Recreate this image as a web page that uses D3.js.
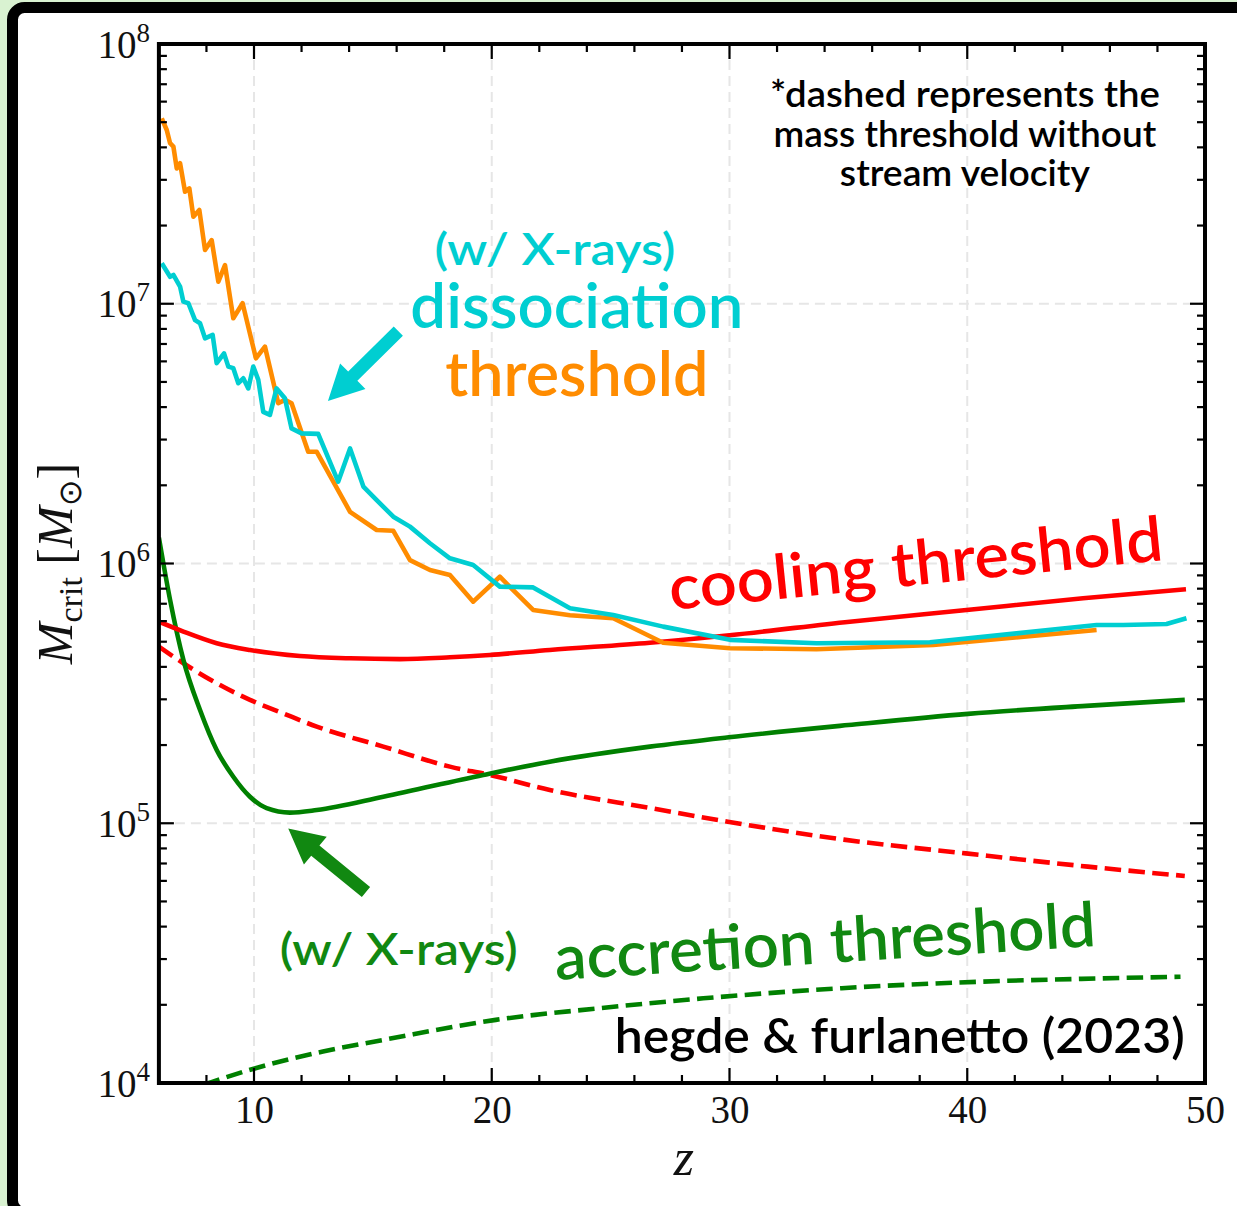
<!DOCTYPE html>
<html>
<head>
<meta charset="utf-8">
<script src="https://cdn.jsdelivr.net/npm/d3@7"></script>
<style>
  html, body { margin: 0; padding: 0; background: #d9f2d1; }
  svg { display: block; }
</style>
</head>
<body>
<svg id="chart" width="1237" height="1206"></svg>
<script>
// ---- data: redshift z and log10 of the critical halo mass (M_sun) ----

// cooling threshold, with stream velocity (solid red)
const coolZ     = [6.0, 7.03, 8.43, 9.83, 11.93, 14.03, 16.14, 18.24, 19.92, 22.44, 26.65, 30.0, 35.06, 39.97, 44.87, 49.2];
const coolLogM  = [5.776, 5.738, 5.693, 5.667, 5.644, 5.635, 5.632, 5.639, 5.648, 5.667, 5.695, 5.724, 5.776, 5.821, 5.866, 5.901];

// cooling threshold, no stream velocity (dashed red)
const coolNsZ    = [6.0, 7.03, 8.43, 9.83, 11.23, 12.64, 15.44, 18.24, 19.92, 22.44, 26.65, 29.93, 34.81, 39.94, 45.07, 49.15];
const coolNsLogM = [5.680, 5.616, 5.539, 5.475, 5.423, 5.372, 5.295, 5.218, 5.186, 5.128, 5.059, 5.006, 4.937, 4.884, 4.833, 4.797];

// accretion threshold with X-rays, with stream velocity (solid green)
const accZ    = [6.0, 6.47, 7.03, 7.73, 8.43, 9.13, 9.83, 10.53, 11.51, 12.64, 15.44, 19.64, 22.44, 26.65, 29.97, 35.0, 40.03, 45.0, 49.15];
const accLogM = [6.100, 5.860, 5.629, 5.436, 5.282, 5.179, 5.102, 5.058, 5.041, 5.051, 5.102, 5.186, 5.237, 5.295, 5.331, 5.378, 5.421, 5.452, 5.475];

// accretion threshold, no stream velocity (dashed green)
const accNsZ    = [6.0, 7.0, 8.1, 9.99, 12.9, 15.8, 20.17, 24.54, 28.9, 34.72, 40.54, 44.8, 48.97];
const accNsLogM = [3.930, 3.966, 4.000, 4.055, 4.121, 4.172, 4.243, 4.288, 4.326, 4.365, 4.390, 4.401, 4.409];

// dissociation threshold, with stream velocity (orange)
const dissZ = [6.12, 6.33, 6.47, 6.61, 6.75, 6.89, 7.10, 7.28, 7.45, 7.70, 7.94, 8.22, 8.50, 8.78, 9.13, 9.52,
               10.08, 10.46, 11.02, 11.30, 11.58, 12.28, 12.64, 14.04, 15.16, 15.86, 16.56, 17.40, 18.24, 19.22,
               20.34, 21.74, 23.29, 25.11, 27.21, 30.02, 33.66, 38.57, 45.44];
const dissLogM = [7.714, 7.669, 7.618, 7.605, 7.521, 7.541, 7.431, 7.444, 7.335, 7.361, 7.207, 7.245, 7.085, 7.149, 6.944, 7.002,
                  6.790, 6.835, 6.617, 6.630, 6.617, 6.430, 6.430, 6.199, 6.129, 6.126, 6.013, 5.975, 5.956, 5.853,
                  5.949, 5.821, 5.801, 5.789, 5.695, 5.674, 5.670, 5.686, 5.744];

// dissociation threshold with X-rays (cyan)
const dissXZ = [6.12, 6.47, 6.61, 6.89, 7.03, 7.24, 7.52, 7.73, 7.94, 8.26, 8.43, 8.74, 8.92, 9.13, 9.34, 9.55,
                9.76, 9.97, 10.18, 10.39, 10.67, 10.95, 11.30, 11.58, 12.00, 12.70, 13.54, 14.04, 14.60, 15.16,
                15.86, 16.56, 17.40, 18.24, 19.22, 20.34, 21.74, 23.29, 25.11, 27.21, 30.02, 33.66, 38.43, 42.07,
                45.44, 46.56, 48.38, 49.22];
const dissXLogM = [7.156, 7.104, 7.111, 7.066, 7.008, 7.002, 6.937, 6.925, 6.867, 6.880, 6.771, 6.809, 6.758, 6.752, 6.694, 6.713,
                   6.674, 6.758, 6.707, 6.584, 6.572, 6.674, 6.636, 6.520, 6.501, 6.499, 6.315, 6.443, 6.296, 6.244,
                   6.180, 6.142, 6.078, 6.020, 5.994, 5.911, 5.908, 5.828, 5.802, 5.757, 5.706, 5.693, 5.697, 5.731,
                   5.763, 5.763, 5.767, 5.789];

// axis ticks
const xMajor = [10, 20, 30, 40, 50];
const xMinor = d3.range(8, 50, 2).filter(v => v % 10 !== 0);
const yMajorExp = [4, 5, 6, 7, 8];

// ---- layout ----
const W = 1237, H = 1206;
const plot = { left: 158.9, right: 1205, top: 44, bottom: 1083 };

const x = d3.scaleLinear().domain([6, 50]).range([plot.left, plot.right]);
const y = d3.scaleLog().domain([1e4, 1e8]).range([plot.bottom, plot.top]);

const svg = d3.select("#chart");

// outer rounded frame
svg.append("rect")
  .attr("x", 12.5).attr("y", 7.5)
  .attr("width", W + 20).attr("height", H - 1)
  .attr("rx", 12).attr("ry", 12)
  .attr("fill", "#ffffff").attr("stroke", "#000").attr("stroke-width", 11);

svg.append("defs").append("clipPath").attr("id", "plotclip")
  .append("rect")
  .attr("x", plot.left).attr("y", plot.top)
  .attr("width", plot.right - plot.left).attr("height", plot.bottom - plot.top);

// grid at major ticks
const grid = svg.append("g").attr("stroke", "#e6e6e6").attr("stroke-width", 2).attr("stroke-dasharray", "10 6");
[10, 20, 30, 40].forEach(v => grid.append("line")
  .attr("x1", x(v)).attr("x2", x(v)).attr("y1", plot.top).attr("y2", plot.bottom));
[5, 6, 7].forEach(e => grid.append("line")
  .attr("x1", plot.left).attr("x2", plot.right).attr("y1", y(10 ** e)).attr("y2", y(10 ** e)));

// ---- curves ----
const toPts = (zs, ls) => zs.map((z, i) => [z, Math.pow(10, ls[i])]);
const smooth = d3.line().x(d => x(d[0])).y(d => y(d[1])).curve(d3.curveMonotoneX);
const jagged = d3.line().x(d => x(d[0])).y(d => y(d[1]));

const curves = svg.append("g").attr("clip-path", "url(#plotclip)")
  .attr("fill", "none").attr("stroke-width", 4.6)
  .attr("stroke-linejoin", "round");

const series = [
  { pts: toPts(accNsZ, accNsLogM),   gen: smooth, color: "#008000", dash: "16.5 7.4" },
  { pts: toPts(coolNsZ, coolNsLogM), gen: smooth, color: "#ff0000", dash: "16.5 7.4" },
  { pts: toPts(accZ, accLogM),       gen: smooth, color: "#008000", dash: null },
  { pts: toPts(coolZ, coolLogM),     gen: smooth, color: "#ff0000", dash: null },
  { pts: toPts(dissZ, dissLogM),     gen: jagged, color: "#ff8c00", dash: null },
  { pts: toPts(dissXZ, dissXLogM),   gen: jagged, color: "#00ced1", dash: null }
];
series.forEach(s => {
  curves.append("path")
    .attr("d", s.gen(s.pts))
    .attr("stroke", s.color)
    .attr("stroke-dasharray", s.dash);
});

// ---- axes: inward ticks on all four sides ----
const axes = svg.append("g").attr("stroke", "#000");
const tickMaj = 15, tickMin = 8;
xMajor.concat(xMinor).forEach(v => {
  const len = xMajor.includes(v) ? tickMaj : tickMin;
  axes.append("line").attr("x1", x(v)).attr("x2", x(v))
    .attr("y1", plot.bottom).attr("y2", plot.bottom - len).attr("stroke-width", 2.2);
  axes.append("line").attr("x1", x(v)).attr("x2", x(v))
    .attr("y1", plot.top).attr("y2", plot.top + len).attr("stroke-width", 2.2);
});
yMajorExp.forEach(e => {
  [1, 2, 3, 4, 5, 6, 7, 8, 9].forEach(m => {
    const v = m * 10 ** e;
    if (v > 1e8) return;
    const len = m === 1 ? tickMaj : tickMin;
    axes.append("line").attr("y1", y(v)).attr("y2", y(v))
      .attr("x1", plot.left).attr("x2", plot.left + len).attr("stroke-width", 2.2);
    axes.append("line").attr("y1", y(v)).attr("y2", y(v))
      .attr("x1", plot.right).attr("x2", plot.right - len).attr("stroke-width", 2.2);
  });
});
svg.append("rect")
  .attr("x", plot.left).attr("y", plot.top)
  .attr("width", plot.right - plot.left).attr("height", plot.bottom - plot.top)
  .attr("fill", "none").attr("stroke", "#000").attr("stroke-width", 4);

// tick labels
const serif = "'Liberation Serif', 'DejaVu Serif', serif";
const xAxisG = svg.append("g").attr("transform", `translate(0,${plot.bottom})`);
xAxisG.call(d3.axisBottom(x).tickValues(xMajor).tickSize(0).tickFormat(d3.format("d")));
xAxisG.select(".domain").remove();
xAxisG.selectAll("text")
  .attr("y", 40).attr("dy", 0)
  .attr("font-family", serif).attr("font-size", 39).attr("fill", "#111");

const yAxisG = svg.append("g").attr("transform", `translate(${plot.left},0)`);
yAxisG.call(d3.axisLeft(y).tickValues(yMajorExp.map(e => 10 ** e)).tickSize(0).tickFormat(""));
yAxisG.select(".domain").remove();
yAxisG.selectAll(".tick").each(function (d) {
  const t = d3.select(this).append("text")
    .attr("x", -9).attr("y", 13)
    .attr("text-anchor", "end")
    .attr("font-family", serif).attr("font-size", 39).attr("fill", "#111");
  t.append("tspan").text("10");
  t.append("tspan").attr("dy", -16).attr("font-size", 27).text(Math.round(Math.log10(d)));
});

// axis titles
const yl = svg.append("text")
  .attr("transform", `translate(72,${(plot.top + plot.bottom) / 2}) rotate(-90)`)
  .attr("text-anchor", "middle")
  .attr("font-family", serif).attr("font-size", 50).attr("fill", "#111");
yl.append("tspan").attr("font-style", "italic").text("M");
yl.append("tspan").attr("font-size", 34).attr("dy", 10).text("crit");
yl.append("tspan").attr("dy", -10).text(" [");
yl.append("tspan").attr("font-style", "italic").text("M");
yl.append("tspan").attr("font-size", 32).attr("dy", 9).attr("font-family", "'DejaVu Sans', sans-serif").text("\u2299");
yl.append("tspan").attr("dy", -9).text("]");

svg.append("text")
  .attr("x", (plot.left + plot.right) / 2 + 2).attr("y", 1175)
  .attr("text-anchor", "middle")
  .attr("font-family", serif).attr("font-style", "italic").attr("font-size", 52).attr("fill", "#111")
  .text("z");

// ---- annotations (positions in data coordinates: z, log10 M) ----
const sans = "Lato, 'Open Sans', sans-serif";
const labels = [
  { text: "*dashed represents the", z: 39.9, lm: 7.757, size: 36, len: 390, color: "#000", rot: 0 },
  { text: "mass threshold without", z: 39.9, lm: 7.603, size: 36, len: 383, color: "#000", rot: 0 },
  { text: "stream velocity",        z: 39.9, lm: 7.453, size: 36, len: 250, color: "#000", rot: 0 },
  { text: "(w/ X-rays)",   z: 22.66, lm: 7.149, size: 45, len: 241, color: "#00ced1", rot: 0 },
  { text: "dissociation",  z: 23.58, lm: 6.907, size: 62, len: 333, color: "#00ced1", rot: 0 },
  { text: "threshold",     z: 23.58, lm: 6.645, size: 62, len: 263, color: "#ff8c00", rot: 0 },
  { text: "cooling threshold", z: 37.92, lm: 5.917, size: 62, len: 496, color: "#ff0000", rot: -5.8 },
  { text: "(w/ X-rays)",   z: 16.09, lm: 4.454, size: 45, len: 238, color: "#118811", rot: 0 },
  { text: "accretion threshold", z: 34.07, lm: 4.462, size: 62, len: 542, color: "#118811", rot: -3.6 },
  { text: "hegde & furlanetto (2023)", z: 37.16, lm: 4.1155, size: 48, len: 570, color: "#000", rot: 0 }
];
const ann = svg.append("g").attr("font-family", sans).attr("font-weight", 600);
labels.forEach(l => {
  const px = x(l.z), py = y(Math.pow(10, l.lm));
  ann.append("text")
    .attr("transform", `translate(${px},${py}) rotate(${l.rot})`)
    .attr("text-anchor", "middle")
    .attr("font-size", l.size)
    .attr("textLength", l.len).attr("lengthAdjust", "spacingAndGlyphs")
    .attr("fill", l.color)
    .text(l.text);
});

// arrows pointing at the X-ray curves
const arrows = [
  { from: [16.07, 6.895], to: [13.11, 6.626], color: "#00ced1" },
  { from: [14.71, 4.735], to: [11.44, 4.980], color: "#118811" }
];
const shaftW = 13, headW = 36, headL = 35;
arrows.forEach(a => {
  const x0 = x(a.from[0]), y0 = y(Math.pow(10, a.from[1]));
  const x1 = x(a.to[0]),   y1 = y(Math.pow(10, a.to[1]));
  const L = Math.hypot(x1 - x0, y1 - y0);
  const ux = (x1 - x0) / L, uy = (y1 - y0) / L;
  const nx = -uy, ny = ux;
  const bx = x1 - ux * headL, by = y1 - uy * headL;
  const p = [
    [x0 + nx * shaftW / 2, y0 + ny * shaftW / 2],
    [bx + nx * shaftW / 2, by + ny * shaftW / 2],
    [bx + nx * headW / 2, by + ny * headW / 2],
    [x1, y1],
    [bx - nx * headW / 2, by - ny * headW / 2],
    [bx - nx * shaftW / 2, by - ny * shaftW / 2],
    [x0 - nx * shaftW / 2, y0 - ny * shaftW / 2]
  ];
  svg.append("path").attr("d", "M" + p.map(q => q.join(",")).join("L") + "Z").attr("fill", a.color);
});
</script>
</body>
</html>
